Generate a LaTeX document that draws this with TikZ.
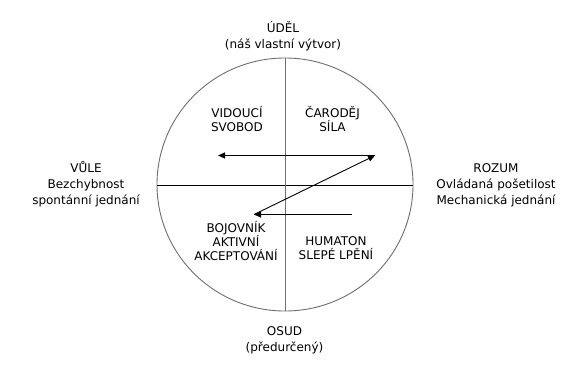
\documentclass[tikz,border=0pt]{standalone}
\usepackage{fontspec}
\setmainfont{DejaVu Sans}
\usepackage{xcolor}
\usepackage{tikz}
\usetikzlibrary{arrows.meta}
\definecolor{kgray}{HTML}{6E6E6E}
\tikzset{
  outer/.style={align=center, font=\fontsize{12}{16}\selectfont, inner sep=0pt},
  inner/.style={align=center, font=\fontsize{12}{14}\selectfont, inner sep=0pt},
  axis/.style={draw=kgray, line width=0.9pt},
  ar/.style={-{Triangle[length=7pt,width=6pt]}, draw=black, line width=0.9pt},
}
\begin{document}
\begin{tikzpicture}[x=1pt,y=-1pt]
\useasboundingbox (0,0) rectangle (588,383);

% ---------- circle and axes ----------
\coordinate (c) at (285,184.5);
\draw[axis] (c) ellipse [x radius=128pt, y radius=126.5pt];
\coordinate (cw) at (157,185);
\coordinate (ce) at (413,185);
\coordinate (cn) at (285,58);
\coordinate (cs) at (285,311);
\draw[axis,draw=black] (cw) -- (ce);
\draw[axis] (cn) -- (cs);

% ---------- poles ----------
\node[outer] (udel)  at (283,36.5) {ÚDĚL\\(náš vlastní výtvor)};
\node[outer] (osud)  at (284.5,340) {OSUD\\(předurčený)};
\node[outer] (vule)  at (86,184)  {VŮLE\\Bezchybnost\\spontánní jednání};
\node[outer] (rozum) at (496,185) {ROZUM\\Ovládaná pošetilost\\Mechanická jednání};

% ---------- quadrants ----------
\node[inner] (vid) at (237,119)   {VIDOUCÍ\\SVOBOD};
\node[inner] (car) at (332.5,119) {ČARODĚJ\\SÍLA};
\node[inner] (boj) at (236,241.5) {BOJOVNÍK\\AKTIVNÍ\\AKCEPTOVÁNÍ};
\node[inner] (hum) at (336,248)   {HUMATON\\SLEPÉ LPĚNÍ};

% ---------- path through the quadrants ----------
\coordinate (lr) at (352,214.5);
\coordinate (ll) at (254,214.5);
\coordinate (ur) at (375,155.5);
\coordinate (ul) at (218,155.5);
\draw[ar] (lr) -- (ll);
\draw[ar] (ll) -- (ur);
\draw[ar] (ur) -- (ul);
\end{tikzpicture}
\end{document}
